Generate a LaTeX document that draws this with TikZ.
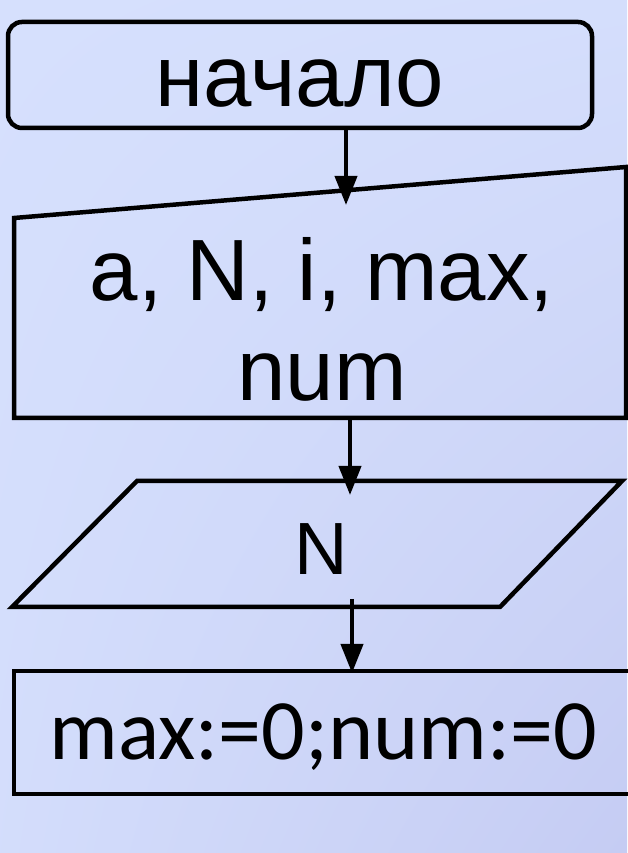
\documentclass[tikz,border=0pt]{standalone}
\usepackage{fontspec}
\setmainfont{Liberation Sans}
\newfontfamily\calib{Carlito}
\usetikzlibrary{arrows.meta,shadings}
\definecolor{fondA}{RGB}{214,224,253}
\definecolor{fondB}{RGB}{197,204,243}
\tikzset{
	bloc/.style={draw=black, line width=4.5pt, inner sep=0pt},
	fleche/.style={line width=4pt, -{Triangle[length=29pt,width=22pt]}},
	grand/.style={font=\fontsize{87}{100}\selectfont},
}
\begin{document}
\begin{tikzpicture}[x=1pt,y=1pt]
	%Fond
	\useasboundingbox (0,0) rectangle (627,853);
	\shade[upper left=fondA, upper right=fondA!90!fondB, lower left=fondA!85!fondB, lower right=fondB] (0,0) rectangle (627,853);
	%Noeuds du diagramme
	\node[bloc, grand, rounded corners=14pt, minimum width=584pt, minimum height=106pt, text height=64pt, text depth=0pt] (debut) at (300,778) {начало};
	\coordinate (inNO) at (14,635);
	\coordinate (inNE) at (626,686);
	\coordinate (inSE) at (626,435);
	\coordinate (inSW) at (14,435);
	\draw[bloc] (inNO) -- (inNE) -- (inSE) -- (inSW) -- cycle;
	\node[grand, align=center, inner sep=0pt] (vars) at (322,534) {a, N, i, max,\\num};
	\coordinate (paNO) at (137,372);
	\coordinate (paNE) at (622,372);
	\coordinate (paSE) at (500,246);
	\coordinate (paSW) at (12,246);
	\draw[bloc] (paNO) -- (paNE) -- (paSE) -- (paSW) -- cycle;
	\node[font=\fontsize{74}{80}\selectfont, inner sep=0pt, text height=53pt, text depth=0pt] (saisie) at (321,304.5) {N};
	\node[bloc, font=\calib\fontsize{86}{100}\selectfont, minimum width=618pt, minimum height=123pt, text height=55pt, text depth=0pt] (init) at (323,120.5) {max:=0;num:=0};
	%Fleches
	\coordinate (a1) at (346,725);
	\coordinate (a2) at (346,648);
	\coordinate (b1) at (350,435);
	\coordinate (b2) at (350,358);
	\coordinate (c1) at (352,254);
	\coordinate (c2) at (352,180);
	\draw[fleche] (a1) -- (a2);
	\draw[fleche] (b1) -- (b2);
	\draw[fleche] (c1) -- (c2);
\end{tikzpicture}
\end{document}
